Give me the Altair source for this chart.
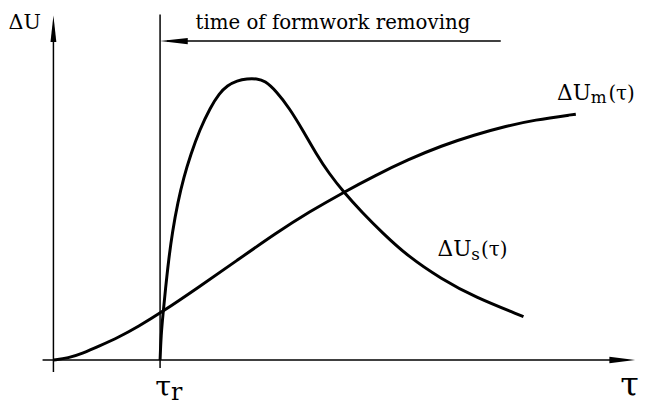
import altair as alt
import pandas as pd

# --- curve data (tau, dU) ---
um_t = [0.00, 0.15, 0.30, 0.46, 0.66, 0.86, 1.09, 1.46, 1.86, 2.26, 2.59, 2.94, 3.26, 3.59, 3.93, 4.26, 4.59, 4.86, 5.29]
um_u = [0.00, 0.02, 0.07, 0.14, 0.23, 0.34, 0.48, 0.73, 1.01, 1.29, 1.50, 1.70, 1.87, 2.03, 2.17, 2.28, 2.37, 2.43, 2.49]

us_t = [1.08, 1.09, 1.11, 1.135, 1.165, 1.205, 1.26, 1.32, 1.39, 1.48, 1.59, 1.68, 1.76, 1.86, 1.96, 2.06,
        2.14, 2.26, 2.39, 2.53, 2.66, 2.79, 2.94, 3.13, 3.33, 3.59, 3.93, 4.26, 4.76]
us_u = [0.00, 0.25, 0.47, 0.72, 1.00, 1.30, 1.60, 1.85, 2.08, 2.33, 2.56, 2.70, 2.78, 2.83, 2.85, 2.85,
        2.83, 2.72, 2.55, 2.32, 2.09, 1.89, 1.70, 1.49, 1.29, 1.05, 0.82, 0.64, 0.44]

# --- construction lines: axes, removal time, arrow shaft ---
seg_t = [0.00, -0.11, 1.08, 1.15]
seg_u = [-0.12, 0.00, -0.08, 3.23]
seg_t2 = [0.00, 5.80, 1.08, 4.53]
seg_u2 = [3.30, 0.00, 3.50, 3.23]

tau_r = 1.08
x_dom = [-0.46, 5.94]
y_dom = [-0.43, 3.54]
FONT = "DejaVu Serif"

curves = pd.DataFrame({
    "t": um_t + us_t,
    "u": um_u + us_u,
    "s": ["m"] * len(um_t) + ["s"] * len(us_t),
    "i": list(range(len(um_t))) + list(range(len(us_t))),
})
segs = pd.DataFrame({"t": seg_t, "u": seg_u, "t2": seg_t2, "u2": seg_u2})

X = alt.X("t:Q", scale=alt.Scale(domain=x_dom, nice=False, zero=False), axis=None)
Y = alt.Y("u:Q", scale=alt.Scale(domain=y_dom, nice=False, zero=False), axis=None)

lines = alt.Chart(curves).mark_line(
    interpolate="basis", color="black", strokeWidth=3
).encode(x=X, y=Y, detail="s:N", order="i:Q")

rules = alt.Chart(segs).mark_rule(color="black", strokeWidth=1.5).encode(
    x=X, y=Y, x2="t2:Q", y2="u2:Q"
)

def head(t, u, path, size):
    return alt.Chart(pd.DataFrame({"t": [t], "u": [u]})).mark_point(
        shape=path, size=size, filled=True, color="black", opacity=1, strokeWidth=0
    ).encode(x=X, y=Y)

heads = [
    head(0.0, 3.49, "M0,0 L-0.22,2 L0.22,2 Z", 729),
    head(5.89, 0.0, "M0,0 L-2,-0.25 L-2,0.25 Z", 676),
    head(tau_r, 3.23, "M0,0 L2,-0.22 L2,0.22 Z", 784),
]

# --- text labels ---
lab_text = ["ΔU", "ΔU", "m", "(τ)", "ΔU", "s", "(τ)", "τ", "τ", "r"]
lab_t = [-0.455, 5.10, 5.44, 5.62, 3.89, 4.23, 4.33, 5.74, 1.03, 1.19]
lab_u = [3.35, 2.63, 2.605, 2.63, 1.05, 1.015, 1.05, -0.36, -0.36, -0.40]
lab_fs = [21, 22, 17, 20, 22, 17, 20, 34, 29, 24]
labels = pd.DataFrame({"t": lab_t, "u": lab_u, "txt": lab_text, "fs": lab_fs})

texts = alt.Chart(labels).mark_text(
    align="left", baseline="alphabetic", font=FONT, color="black"
).encode(x=X, y=Y, text="txt:N", size=alt.Size("fs:Q", scale=None, legend=None))

note = alt.Chart(pd.DataFrame({"t": [2.83], "u": [3.35], "txt": ["time of formwork removing"]})).mark_text(
    align="center", baseline="alphabetic", font=FONT, fontSize=20, color="black"
).encode(x=X, y=Y, text="txt:N")

chart = alt.layer(lines, rules, *heads, texts, note).properties(
    width=640, height=397, padding=0, autosize=alt.AutoSizeParams(type="none")
).configure_view(stroke=None)

chart.save("out.html", embed_options={"renderer": "svg", "actions": False})
